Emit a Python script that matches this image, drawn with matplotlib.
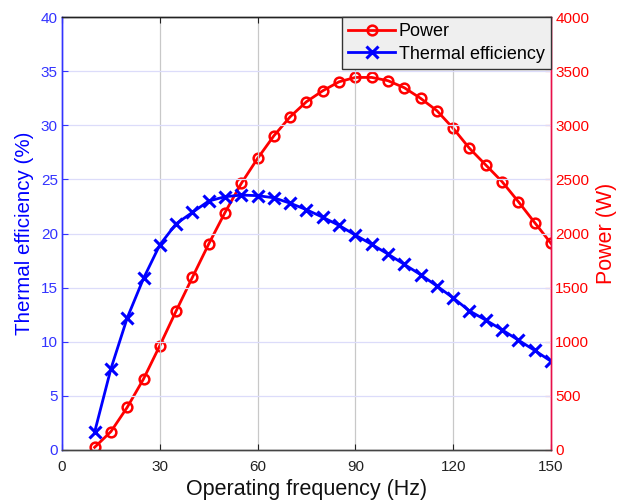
import matplotlib
matplotlib.use("Agg")
import matplotlib.pyplot as plt
import numpy as np

plt.rcParams['font.family'] = ['Liberation Sans', 'DejaVu Sans']

freq = [10, 15, 20, 25, 30, 35, 40, 45, 50, 55, 60, 65, 70, 75, 80, 85, 90, 95,
        100, 105, 110, 115, 120, 125, 130, 135, 140, 145, 150]
efficiency = [1.65, 7.5, 12.2, 15.85, 18.95, 20.9, 21.95, 23.0, 23.4, 23.55, 23.5, 23.3,
              22.8, 22.2, 21.5, 20.75, 19.85, 19.0, 18.1, 17.15, 16.2, 15.15, 14.05,
              12.85, 12.0, 11.1, 10.15, 9.2, 8.2]
power = [25, 170, 394, 656, 964, 1284, 1595, 1903, 2194, 2463, 2694, 2903, 3079,
         3218, 3319, 3402, 3442, 3442, 3412, 3347, 3249, 3135, 2972, 2787, 2633,
         2479, 2294, 2101, 1909]

x_ticks = [0, 30, 60, 90, 120, 150]
eff_ticks = [0, 5, 10, 15, 20, 25, 30, 35, 40]
pow_ticks = [0, 500, 1000, 1500, 2000, 2500, 3000, 3500, 4000]

BLUE = '#0000ff'
RED = '#ff0000'
LBLUE = '#3333ff'
LRED = '#e8104a'

fig = plt.figure(figsize=(6.17, 5.01), dpi=100)
ax = fig.add_axes([0.1005, 0.1018, 0.7925, 0.8642])
ax2 = ax.twinx()

ax.set_zorder(2)
ax.patch.set_visible(False)

# grid
for xv in x_ticks[1:-1]:
    ax.axvline(xv, color='#c8c8c8', lw=0.9, zorder=0)
for yv in eff_ticks[1:-1]:
    ax.axhline(yv, color='#dcdcfa', lw=0.9, zorder=0)

l2, = ax2.plot(freq, power, color=RED, lw=2, marker='o', ms=7, mfc='none',
               mew=1.8, label='Power')
l1, = ax.plot(freq, efficiency, color=BLUE, lw=2, marker='x', ms=8, mew=2.2,
              label='Thermal efficiency')

ax.set_xlim(0, 150)
ax.set_ylim(0, 40)
ax2.set_ylim(0, 4000)
ax.set_xticks(x_ticks)
ax.set_yticks(eff_ticks)
ax2.set_yticks(pow_ticks)

ax.tick_params(axis='x', labelsize=11, colors='#222222', direction='in', length=4, pad=7)
ax.tick_params(axis='y', labelsize=11, colors=LBLUE, direction='in', length=4, pad=3)
ax2.tick_params(axis='y', labelsize=11, colors=RED, direction='in', length=4, pad=3)
ax.tick_params(top=True, which='both')

for a in (ax, ax2):
    a.spines['left'].set_color(LBLUE)
    a.spines['right'].set_color(LRED)
    a.spines['bottom'].set_color('#444444')
    a.spines['top'].set_color('#222222')
    for s in a.spines.values():
        s.set_linewidth(1.0)

ax.set_xlabel('Operating frequency (Hz)', fontsize=15.5, color='#111111', labelpad=4)
ax.set_ylabel('Thermal efficiency (%)', fontsize=14.8, color=BLUE, labelpad=5)
ax2.set_ylabel('Power (W)', fontsize=15.5, color=RED, labelpad=5)

leg = ax.legend(handles=[l2, l1], loc='upper right', fontsize=13, frameon=True,
                fancybox=False, borderaxespad=0, handlelength=2.6,
                borderpad=0.35, labelspacing=0.3, handletextpad=0.2)
leg.get_frame().set_facecolor('#efefef')
leg.get_frame().set_edgecolor('#333333')
leg.get_frame().set_alpha(1)
leg.get_frame().set_linewidth(1.0)

fig.savefig('out.png', dpi=100)
